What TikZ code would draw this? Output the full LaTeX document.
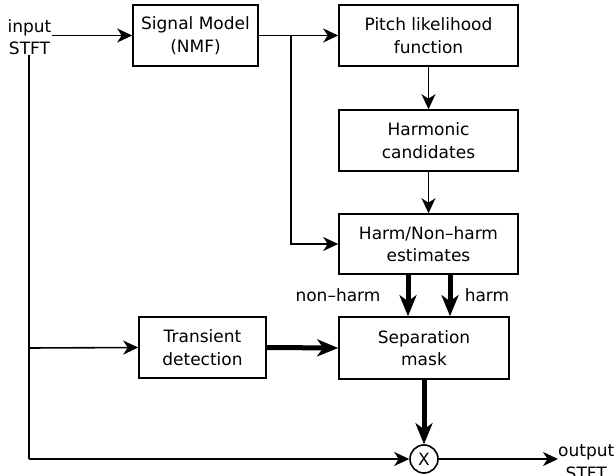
\documentclass[tikz,border=0pt]{standalone}
\usepackage{fontspec}
\setmainfont{DejaVu Sans}
\usetikzlibrary{arrows.meta}
\begin{document}
\begin{tikzpicture}[x=1pt,y=-1pt,
  every node/.style={font=\fontsize{17}{22.5}\selectfont},
  blk/.style={draw,line width=1.6pt,align=center,inner sep=0pt},
  lbl/.style={align=center,inner sep=0pt},
  thin/.style={line width=1.6pt,-{Stealth[length=15pt,width=14pt,inset=4.5pt]}},
  thick/.style={line width=5pt,-{Stealth[length=21pt,width=17pt,inset=6pt]}},
  plain/.style={line width=1.6pt}]
\useasboundingbox (0,0) rectangle (616,476);
\node[lbl] (inp) at (29.5,37) {input\\STFT};
\node[blk,minimum width=125pt,minimum height=61pt] (sig) at (195.5,35.5) {Signal Model\\(NMF)};
\node[blk,minimum width=179pt,minimum height=61pt] (pitch) at (428.5,35.5) {Pitch likelihood\\function};
\node[blk,minimum width=179pt,minimum height=61pt] (harmc) at (428.5,140.5) {Harmonic\\candidates};
\node[blk,minimum width=179pt,minimum height=60pt] (hnh) at (428.5,244) {Harm/Non–harm\\estimates};
\node[blk,minimum width=127pt,minimum height=61pt] (trans) at (202.5,347.5) {Transient\\detection};
\node[blk,minimum width=170pt,minimum height=62pt] (sep) at (424,348) {Separation\\mask};
\node[draw,circle,line width=1.6pt,minimum size=28pt,inner sep=0pt] (mult) at (424,459) {X};
\node[lbl,anchor=west] (out) at (558,462) {output\\STFT};
\node[lbl] (nh) at (338,295) {non–harm};
\node[lbl] (hm) at (487,295) {harm};
\coordinate (br) at (291,36);
\coordinate (lt) at (29,348);
\coordinate (lb) at (29,459);
\draw[thin] (inp.east |- sig.west) -- (sig.west);
\draw[thin] (sig.east) -- (pitch.west);
\draw[thin] (br) |- (hnh.west);
\draw[thin] (pitch.south) -- (harmc.north);
\draw[thin] (harmc.south) -- (hnh.north);
\draw[thick] ([xshift=-20.5pt]hnh.south) -- ([xshift=-16pt]sep.north);
\draw[thick] ([xshift=21.5pt]hnh.south) -- ([xshift=26pt]sep.north);
\draw[plain] (inp.south -| lt) -- (lb);
\draw[thin] (lt) -- (trans.west);
\draw[thick] (trans.east) -- (sep.west);
\draw[thick] (sep.south) -- (mult.north);
\draw[thin] (lb) -- (mult.west);
\draw[thin] (mult.east) -- (out.west |- mult.east);
\end{tikzpicture}
\end{document}
